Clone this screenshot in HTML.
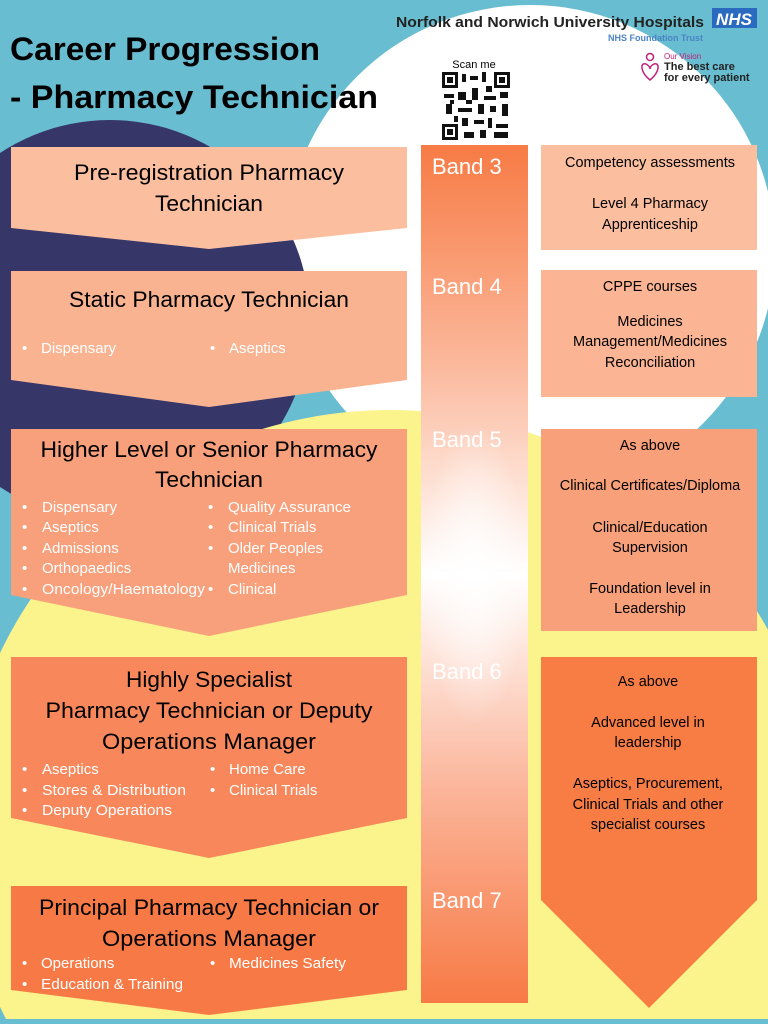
<!DOCTYPE html>
<html><head><meta charset="utf-8"><style>
html,body{margin:0;padding:0;background:#69bdd0;width:768px;height:1024px;overflow:hidden;}
svg{display:block}
text{font-family:"Liberation Sans Narrow","Liberation Sans",sans-serif;}
</style></head><body>
<svg width="768" height="1024" viewBox="0 0 768 1024" xmlns="http://www.w3.org/2000/svg">
<defs>
<linearGradient id="band" x1="0" y1="0" x2="0" y2="1">
<stop offset="0" stop-color="#f77b45"/>
<stop offset="0.25" stop-color="#fbb79a"/>
<stop offset="0.5" stop-color="#ffffff"/>
<stop offset="0.75" stop-color="#fbb59a"/>
<stop offset="1" stop-color="#f77a45"/>
</linearGradient>
<radialGradient id="bandr" cx="0.5" cy="0.5" r="0.5" gradientTransform="translate(0.5 0.5) scale(1 0.35) translate(-0.5 -0.5)">
<stop offset="0" stop-color="#fff" stop-opacity="0.9"/>
<stop offset="1" stop-color="#fff" stop-opacity="0"/>
</radialGradient>
</defs>
<rect width="768" height="1024" fill="#69bdd0"/>
<circle cx="530" cy="250" r="245" fill="#ffffff"/>
<circle cx="110" cy="320" r="200" fill="#363669"/>
<ellipse cx="390" cy="830" rx="430" ry="420" fill="#fbf38c"/>
<rect x="0" y="1019" width="768" height="5" fill="#69bdd0"/>

<text x="10" y="60" font-size="32" font-weight="bold" fill="#000" textLength="310" lengthAdjust="spacingAndGlyphs">Career Progression</text>
<text x="10" y="108" font-size="32" font-weight="bold" fill="#000" textLength="368" lengthAdjust="spacingAndGlyphs">- Pharmacy Technician</text>

<text x="396" y="27" font-size="15" font-weight="bold" fill="#222" textLength="308" lengthAdjust="spacingAndGlyphs">Norfolk and Norwich University Hospitals</text>
<rect x="712" y="8" width="45" height="20" fill="#2a6bbf"/>
<text x="734" y="25" font-size="17" font-weight="bold" font-style="italic" fill="#fff" text-anchor="middle">NHS</text>
<text x="703" y="41" font-size="9" font-weight="bold" fill="#4b84c6" text-anchor="end">NHS Foundation Trust</text>
<circle cx="650" cy="57" r="3.5" fill="none" stroke="#c0207a" stroke-width="1.5"/>
<path d="M650 80 C640 72 640 62 646 64 C648 65 650 67 650 69 C650 67 652 65 654 64 C660 62 660 72 650 80Z" fill="none" stroke="#c0207a" stroke-width="1.5"/>
<text x="664" y="59" font-size="8" fill="#c0207a">Our Vision</text>
<text x="664" y="70" font-size="11" font-weight="bold" fill="#222">The best care</text>
<text x="664" y="81" font-size="11" font-weight="bold" fill="#222">for every patient</text>
<text x="474" y="68" font-size="11" fill="#000" text-anchor="middle">Scan me</text>
<rect x="442" y="72" width="68" height="68" fill="#fff"/>
<g fill="#111">
<rect x="442" y="72" width="16" height="16"/><rect x="494" y="72" width="16" height="16"/><rect x="442" y="124" width="16" height="16"/>
<rect x="445" y="75" width="10" height="10" fill="#fff"/><rect x="497" y="75" width="10" height="10" fill="#fff"/><rect x="445" y="127" width="10" height="10" fill="#fff"/>
<rect x="447" y="77" width="6" height="6"/><rect x="499" y="77" width="6" height="6"/><rect x="447" y="129" width="6" height="6"/>
<rect x="462" y="74" width="4" height="8"/><rect x="470" y="76" width="8" height="4"/><rect x="482" y="72" width="4" height="10"/>
<rect x="444" y="94" width="10" height="4"/><rect x="458" y="92" width="8" height="8"/><rect x="472" y="88" width="6" height="12"/><rect x="484" y="96" width="12" height="4"/><rect x="500" y="92" width="8" height="6"/>
<rect x="446" y="104" width="6" height="10"/><rect x="458" y="108" width="14" height="4"/><rect x="478" y="104" width="6" height="10"/><rect x="490" y="106" width="6" height="6"/><rect x="502" y="104" width="6" height="12"/>
<rect x="462" y="118" width="6" height="8"/><rect x="474" y="120" width="10" height="4"/><rect x="488" y="118" width="4" height="10"/><rect x="496" y="124" width="12" height="4"/>
<rect x="464" y="132" width="10" height="6"/><rect x="480" y="130" width="6" height="8"/><rect x="494" y="132" width="14" height="6"/>
<rect x="450" y="100" width="4" height="4"/><rect x="466" y="100" width="6" height="4"/><rect x="486" y="86" width="6" height="6"/><rect x="454" y="116" width="4" height="6"/>
</g>

<rect x="421" y="145" width="107" height="858" fill="url(#band)"/>
<rect x="421" y="145" width="107" height="858" fill="url(#bandr)"/>
<g font-size="22" fill="#fff">
<text x="432" y="174">Band 3</text>
<text x="432" y="294">Band 4</text>
<text x="432" y="447">Band 5</text>
<text x="432" y="679">Band 6</text>
<text x="432" y="908">Band 7</text>
</g>

<polygon points="11,147 407,147 407,228 209,249 11,228" fill="#fbbfa0"/>
<polygon points="11,271 407,271 407,380 209,407 11,380" fill="#f9b391"/>
<polygon points="11,429 407,429 407,595 209,636 11,595" fill="#f8a07b"/>
<polygon points="11,657 407,657 407,818 209,858 11,818" fill="#f8885b"/>
<polygon points="11,886 407,886 407,990 209,1015 11,990" fill="#f77a46"/>

<g font-size="22" fill="#000" text-anchor="middle">
<text x="209" y="180" textLength="270" lengthAdjust="spacingAndGlyphs">Pre-registration Pharmacy</text>
<text x="209" y="211" textLength="108" lengthAdjust="spacingAndGlyphs">Technician</text>
<text x="209" y="307" textLength="280" lengthAdjust="spacingAndGlyphs">Static Pharmacy Technician</text>
<text x="209" y="457" textLength="337" lengthAdjust="spacingAndGlyphs">Higher Level or Senior Pharmacy</text>
<text x="209" y="487" textLength="108" lengthAdjust="spacingAndGlyphs">Technician</text>
<text x="209" y="687" textLength="166" lengthAdjust="spacingAndGlyphs">Highly Specialist</text>
<text x="209" y="718" textLength="327" lengthAdjust="spacingAndGlyphs">Pharmacy Technician or Deputy</text>
<text x="209" y="749" textLength="214" lengthAdjust="spacingAndGlyphs">Operations Manager</text>
<text x="209" y="915" textLength="340" lengthAdjust="spacingAndGlyphs">Principal Pharmacy Technician or</text>
<text x="209" y="946" textLength="214" lengthAdjust="spacingAndGlyphs">Operations Manager</text>
</g>

<g font-size="15" fill="#fff">
<text x="22" y="353">•</text><text x="41" y="353">Dispensary</text>
<text x="210" y="353">•</text><text x="229" y="353">Aseptics</text>

<text x="22" y="512">•</text><text x="42" y="512">Dispensary</text>
<text x="22" y="532">•</text><text x="42" y="532">Aseptics</text>
<text x="22" y="553">•</text><text x="42" y="553">Admissions</text>
<text x="22" y="573">•</text><text x="42" y="573">Orthopaedics</text>
<text x="22" y="594">•</text><text x="42" y="594" textLength="163" lengthAdjust="spacingAndGlyphs">Oncology/Haematology</text>
<text x="208" y="512">•</text><text x="228" y="512" textLength="123" lengthAdjust="spacingAndGlyphs">Quality Assurance</text>
<text x="208" y="532">•</text><text x="228" y="532">Clinical Trials</text>
<text x="208" y="553">•</text><text x="228" y="553">Older Peoples</text>
<text x="228" y="573">Medicines</text>
<text x="208" y="594">•</text><text x="228" y="594">Clinical</text>

<text x="22" y="774">•</text><text x="42" y="774">Aseptics</text>
<text x="22" y="795">•</text><text x="42" y="795" textLength="144" lengthAdjust="spacingAndGlyphs">Stores &amp; Distribution</text>
<text x="22" y="815">•</text><text x="42" y="815" textLength="130" lengthAdjust="spacingAndGlyphs">Deputy Operations</text>
<text x="210" y="774">•</text><text x="229" y="774">Home Care</text>
<text x="210" y="795">•</text><text x="229" y="795">Clinical Trials</text>

<text x="22" y="968">•</text><text x="41" y="968">Operations</text>
<text x="22" y="989">•</text><text x="41" y="989" textLength="142" lengthAdjust="spacingAndGlyphs">Education &amp; Training</text>
<text x="210" y="968">•</text><text x="229" y="968" textLength="117" lengthAdjust="spacingAndGlyphs">Medicines Safety</text>
</g>

<rect x="541" y="145" width="216" height="105" fill="#fbbe9f"/>
<rect x="541" y="270" width="216" height="127" fill="#fbb594"/>
<rect x="541" y="429" width="216" height="202" fill="#f8a079"/>
<polygon points="541,657 757,657 757,900 649,1008 541,900" fill="#f77d45"/>
<g font-size="14.5" fill="#000" text-anchor="middle">
<text x="650" y="167">Competency assessments</text>
<text x="650" y="208">Level 4 Pharmacy</text>
<text x="650" y="229">Apprenticeship</text>
<text x="650" y="291">CPPE courses</text>
<text x="650" y="326">Medicines</text>
<text x="650" y="346">Management/Medicines</text>
<text x="650" y="367">Reconciliation</text>
<text x="650" y="450">As above</text>
<text x="650" y="490">Clinical Certificates/Diploma</text>
<text x="650" y="532">Clinical/Education</text>
<text x="650" y="552">Supervision</text>
<text x="650" y="593">Foundation level in</text>
<text x="650" y="613">Leadership</text>
<text x="648" y="686">As above</text>
<text x="648" y="727">Advanced level in</text>
<text x="648" y="747">leadership</text>
<text x="648" y="788">Aseptics, Procurement,</text>
<text x="648" y="809">Clinical Trials and other</text>
<text x="648" y="829">specialist courses</text>
</g>
</svg>
</body></html>
